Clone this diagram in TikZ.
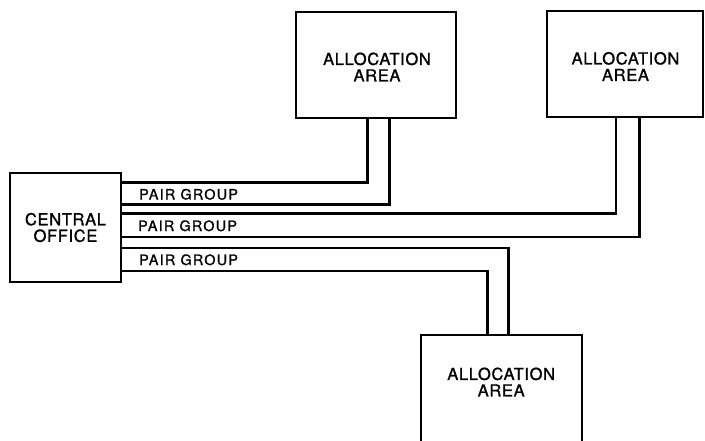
\documentclass[tikz,border=0pt]{standalone}
\usepackage{fontspec}
\setmainfont{TeX Gyre Heros}
\newfontfamily\boxfont[LetterSpace=4,FakeBold=1.2]{TeX Gyre Heros}
\newfontfamily\pairfont[LetterSpace=9,FakeBold=1.2]{TeX Gyre Heros}
\begin{document}
\begin{tikzpicture}[x=1pt,y=-1pt,
  areabox/.style={draw,line width=2pt,inner sep=0pt},
  boxtext/.style={inner sep=0pt,align=center,font=\boxfont\fontsize{16.5}{16.5}\selectfont},
  pairlabel/.style={inner sep=0pt,anchor=base west,font=\pairfont\fontsize{14.3}{14.3}\selectfont},
  wire/.style={line width=2.5pt}]
\clip (0,0) rectangle (705,440);
\fill[white] (0,0) rectangle (705,440);
% boxes
\node[areabox,minimum width=111pt,minimum height=109pt] (co) at (65.5,227.5) {};
\node[areabox,minimum width=160pt,minimum height=106.5pt] (a1) at (376,65) {};
\node[areabox,minimum width=156.5pt,minimum height=106pt] (a2) at (625,63.7) {};
\node[areabox,minimum width=161pt,minimum height=120pt] (a3) at (501.2,395) {};
% box texts
\node[boxtext] (cot) at (65.5,227.5) {CENTRAL\\OFFICE};
\node[boxtext] (a1t) at (377,67) {ALLOCATION\\AREA};
\node[boxtext] (a2t) at (625.5,66.5) {ALLOCATION\\AREA};
\node[boxtext] (a3t) at (501.2,382) {ALLOCATION\\AREA};
% wires
\draw[wire] (co.east |- 0,182.5) -| (367.5,0 |- a1.south);
\draw[wire] (co.east |- 0,204.5) -| (389.5,0 |- a1.south);
\draw[wire] (co.east |- 0,213.5) -| (616,0 |- a2.south);
\draw[wire] (co.east |- 0,237) -| (639.5,0 |- a2.south);
\draw[wire] (co.east |- 0,248) -| (508.5,0 |- a3.north);
\draw[wire] (co.east |- 0,271) -| (487.5,0 |- a3.north);
% labels
\node[pairlabel] (p1) at (139,199.5) {PAIR GROUP};
\node[pairlabel] (p2) at (138,231) {PAIR GROUP};
\node[pairlabel] (p3) at (139,265) {PAIR GROUP};
\end{tikzpicture}
\end{document}
